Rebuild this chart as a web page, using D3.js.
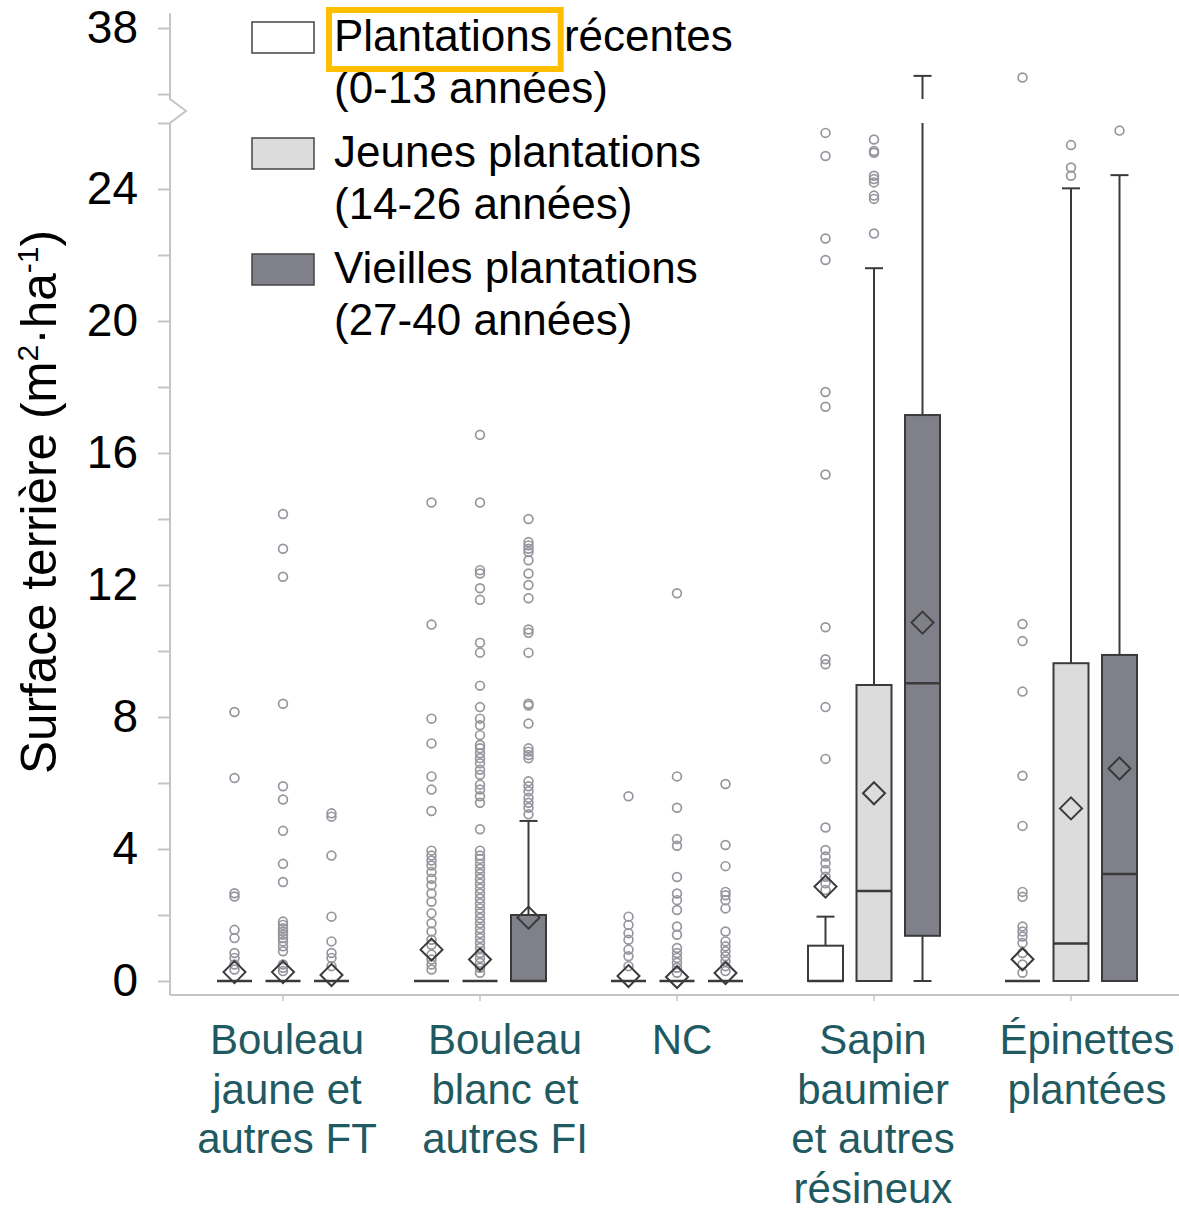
<!DOCTYPE html>
<html>
<head>
<meta charset="utf-8">
<script src="https://cdn.jsdelivr.net/npm/d3@7"></script>
<style>
  body { margin: 0; background: #fff; }
  svg { display: block; font-family: "Liberation Sans", Arial, sans-serif; }
</style>
</head>
<body>
<svg id="chart" width="1179" height="1211"></svg>
<script>
const categories = ['BJ', 'BB', 'NC', 'SB', 'EP'];
const categoryLines = [
  ['Bouleau', 'jaune et', 'autres FT'],
  ['Bouleau', 'blanc et', 'autres FI'],
  ['NC'],
  ['Sapin', 'baumier', 'et autres', 'résineux'],
  ['Épinettes', 'plantées']
];
const series = ['Plantations récentes', 'Jeunes plantations', 'Vieilles plantations'];
const seriesRanges = ['(0-13 années)', '(14-26 années)', '(27-40 années)'];

// [category][series]
const boxQ1 = [[0, 0, 0], [0, 0, 0], [0, 0, 0], [0, 0, 1.37], [0, 0, 0]];
const boxMedian = [[0, 0, 0], [0, 0, 0], [0, 0, 0], [0, 2.73, 9.02], [0, 1.14, 3.24]];
const boxQ3 = [[0, 0, 0], [0, 0, 2.0], [0, 0, 0], [1.07, 8.97, 17.15], [0, 9.63, 9.88]];
const whiskerLow = [[0, 0, 0], [0, 0, 0], [0, 0, 0], [0, 0, 0], [0, 0, 0]];
const whiskerHigh = [[0, 0, 0], [0, 0, 4.85], [0, 0, 0], [1.95, 21.6, 36.55], [0, 24.02, 24.42]];
const meanValues = [[0.27, 0.27, 0.18], [0.95, 0.65, 1.92], [0.15, 0.12, 0.24], [2.86, 5.69, 10.86], [0.66, 5.23, 6.44]];

const outliersBJ = [
  [8.15, 6.15, 2.66, 2.56, 1.55, 1.3, 0.85, 0.7, 0.5, 0.35],
  [14.15, 13.1, 12.25, 8.4, 5.9, 5.5, 4.55, 3.55, 3.0, 1.8, 1.7, 1.6, 1.5, 1.4, 1.3, 1.2, 1.05, 0.9, 0.5, 0.4, 0.3],
  [5.08, 4.98, 3.8, 1.95, 1.2, 0.85, 0.7, 0.45]
];
const outliersBB = [
  [14.5, 10.8, 7.95, 7.2, 6.2, 5.8, 5.15, 3.95, 3.8, 3.65, 3.5, 3.3, 3.1, 2.9, 2.65, 2.4, 2.05, 1.75, 1.5, 1.25, 1.1, 0.8, 0.65, 0.5, 0.35],
  [16.55, 14.5, 12.45, 12.35, 11.9, 11.55, 10.25, 9.95, 8.95, 8.3, 7.95, 7.75, 7.45, 7.15, 7.05, 6.9, 6.75, 6.6, 6.4, 6.25,
   5.95, 5.8, 5.6, 5.4, 4.6, 3.95, 3.8, 3.7, 3.55, 3.4, 3.25, 3.1, 2.95, 2.8, 2.65, 2.5, 2.35, 2.2, 2.05, 1.9, 1.75, 1.6,
   1.45, 1.3, 1.15, 1.0, 0.85, 0.7, 0.55, 0.4, 0.25],
  [14.0, 13.3, 13.2, 13.1, 13.0, 12.75, 12.35, 12.0, 11.6, 10.65, 10.55, 9.95, 8.4, 8.35, 7.8, 7.05, 6.95, 6.85, 6.75,
   6.05, 5.9, 5.75, 5.55, 5.4, 5.25, 5.05]
];
const outliersNC = [
  [5.6, 1.95, 1.7, 1.45, 1.25, 0.95, 0.75, 0.45],
  [11.75, 6.2, 5.25, 4.3, 4.1, 3.15, 2.65, 2.45, 2.15, 1.65, 1.4, 1.0, 0.85, 0.7, 0.55, 0.4, 0.25],
  [5.97, 4.12, 3.48, 2.7, 2.6, 2.45, 2.2, 1.5, 1.2, 1.05, 0.9, 0.75, 0.6, 0.45, 0.3]
];
const outliersSB = [
  [25.7, 25.0, 22.5, 21.85, 17.85, 17.4, 15.35, 10.72, 9.75, 9.6, 8.3, 6.73, 4.65, 3.97, 3.77, 3.57, 3.36, 3.16, 2.96, 2.76],
  [25.5, 25.15, 25.1, 24.4, 24.3, 24.2, 23.8, 23.7, 22.65],
  []
];
const outliersEP = [
  [36.5, 10.82, 10.3, 8.77, 6.22, 4.7, 2.7, 2.55, 1.65, 1.5, 1.35, 1.15, 0.85, 0.5, 0.25],
  [25.33, 24.65, 24.4],
  [25.77]
];
const outliers = [outliersBJ, outliersBB, outliersNC, outliersSB, outliersEP];

const yTicks = [0, 2, 4, 6, 8, 10, 12, 14, 16, 18, 20, 22, 24, 26, 36, 38];
const yLabels = [0, 4, 8, 12, 16, 20, 24, 38];

const fills = ['#ffffff', '#dcdcdc', '#80808a'];
const labelDx = [4, 25, 5, -1, 16];
const breakLo = 26, breakHi = 35.85;

const svg = d3.select('#chart');

const x = d3.scalePoint().domain(categories).range([283, 1071]);
const xSub = d3.scalePoint().domain(series).range([-48.5, 48.5]);
// broken axis: 0-26 and 35.85-38.45 at the same pixels per unit
const y = d3.scaleLinear()
  .domain([0, breakLo, breakHi, 38.45])
  .range([981, 123, 99, 13.15]);

const axisX = 170;

// y axis ticks and labels
const yAxis = svg.append('g')
  .attr('transform', `translate(${axisX},0)`)
  .call(d3.axisLeft(y)
    .tickValues(yTicks)
    .tickSize(12)
    .tickPadding(20)
    .tickFormat((d) => (yLabels.includes(d) ? d : '')));
yAxis.select('.domain').remove();
yAxis.selectAll('.tick line').attr('stroke', '#c4c4c4').attr('stroke-width', 2);
yAxis.selectAll('.tick text')
  .attr('fill', '#000')
  .style('font-size', '46px')
  .style('font-family', '"Liberation Sans", Arial, sans-serif');

// axis line with the break zigzag
const yb1 = y(breakHi), yb2 = y(breakLo);
svg.append('path')
  .attr('d', `M${axisX},${y(38.45)}V${yb1}L${axisX + 16},${(yb1 + yb2) / 2}L${axisX},${yb2}V995`)
  .attr('fill', 'none')
  .attr('stroke', '#c4c4c4')
  .attr('stroke-width', 2);

// x axis
svg.append('line')
  .attr('x1', axisX).attr('x2', 1179)
  .attr('y1', 995).attr('y2', 995)
  .attr('stroke', '#c4c4c4')
  .attr('stroke-width', 2);
svg.selectAll('.xtick')
  .data(categories)
  .enter()
  .append('line')
  .attr('x1', (d) => x(d)).attr('x2', (d) => x(d))
  .attr('y1', 995).attr('y2', 1001)
  .attr('stroke', '#c4c4c4')
  .attr('stroke-width', 1.5);

// category labels
categories.forEach((c, i) => {
  const t = svg.append('text')
    .attr('text-anchor', 'middle')
    .attr('fill', '#1f5a62')
    .style('font-size', '42px');
  categoryLines[i].forEach((line, k) => {
    t.append('tspan')
      .attr('x', x(c) + labelDx[i])
      .attr('y', 1054 + k * 49.5)
      .text(line);
  });
});

// y title
const title = svg.append('text')
  .attr('transform', 'translate(56,502) rotate(-90)')
  .attr('text-anchor', 'middle')
  .attr('fill', '#000')
  .style('font-size', '49.5px');
title.append('tspan').text('Surface terrière (m');
title.append('tspan').attr('dy', -18).style('font-size', '30px').text('2');
title.append('tspan').attr('dy', 18).text('·ha');
title.append('tspan').attr('dy', -18).style('font-size', '30px').text('-1');
title.append('tspan').attr('dy', 18).text(')');

// boxes
const half = 17.5, cap = 9;
const plot = svg.append('g');

categories.forEach((c, i) => {
  series.forEach((s, j) => {
    const cx = x(c) + xSub(s);

    plot.append('g')
      .selectAll('circle')
      .data(outliers[i][j])
      .enter()
      .append('circle')
      .attr('cx', cx)
      .attr('cy', (d) => y(d))
      .attr('r', 4.4)
      .attr('fill', 'none')
      .attr('stroke', '#96969e')
      .attr('stroke-width', 1.7);

    const q1 = boxQ1[i][j], q3 = boxQ3[i][j], wh = whiskerHigh[i][j], wl = whiskerLow[i][j];
    const g = plot.append('g').attr('stroke', '#3a3a3a').attr('stroke-width', 2);

    if (wh > q3) {
      g.append('line')
        .attr('x1', cx).attr('x2', cx)
        .attr('y1', y(q3)).attr('y2', y(Math.min(wh, breakLo)));
      if (wh > breakHi) {
        g.append('line')
          .attr('x1', cx).attr('x2', cx)
          .attr('y1', y(breakHi)).attr('y2', y(wh));
      }
      g.append('line')
        .attr('x1', cx - cap).attr('x2', cx + cap)
        .attr('y1', y(wh)).attr('y2', y(wh));
    }
    if (q1 > wl) {
      g.append('line')
        .attr('x1', cx).attr('x2', cx)
        .attr('y1', y(q1)).attr('y2', y(wl));
      g.append('line')
        .attr('x1', cx - cap).attr('x2', cx + cap)
        .attr('y1', y(wl)).attr('y2', y(wl));
    }
    if (q3 > q1) {
      g.append('rect')
        .attr('x', cx - half)
        .attr('y', y(q3))
        .attr('width', half * 2)
        .attr('height', y(q1) - y(q3))
        .attr('fill', fills[j]);
    }
    g.append('line')
      .attr('x1', cx - half).attr('x2', cx + half)
      .attr('y1', y(boxMedian[i][j])).attr('y2', y(boxMedian[i][j]))
      .attr('stroke-width', 2.5);

    const my = y(meanValues[i][j]), r = 11;
    g.append('path')
      .attr('d', `M${cx},${my - r}L${cx + r},${my}L${cx},${my + r}L${cx - r},${my}Z`)
      .attr('fill', 'none');
  });
});

// legend
series.forEach((s, j) => {
  const top = 22 + j * 116;
  svg.append('rect')
    .attr('x', 252).attr('y', top)
    .attr('width', 62).attr('height', 31)
    .attr('fill', fills[j])
    .attr('stroke', '#444')
    .attr('stroke-width', 1.5);
  const t = svg.append('text').attr('fill', '#000').style('font-size', '44px');
  t.append('tspan').attr('x', 334).attr('y', top + 29).text(s);
  t.append('tspan').attr('x', 334).attr('y', top + 81).text(seriesRanges[j]);
});

// highlight around the first word of the first legend entry
const probe = svg.append('text').style('font-size', '44px').text('Plantations');
const wordLen = probe.node().getComputedTextLength();
probe.remove();
svg.append('rect')
  .attr('x', 329).attr('y', 10)
  .attr('width', wordLen + 14).attr('height', 59)
  .attr('fill', 'none')
  .attr('stroke', '#ffbf00')
  .attr('stroke-width', 6);
</script>
</body>
</html>
